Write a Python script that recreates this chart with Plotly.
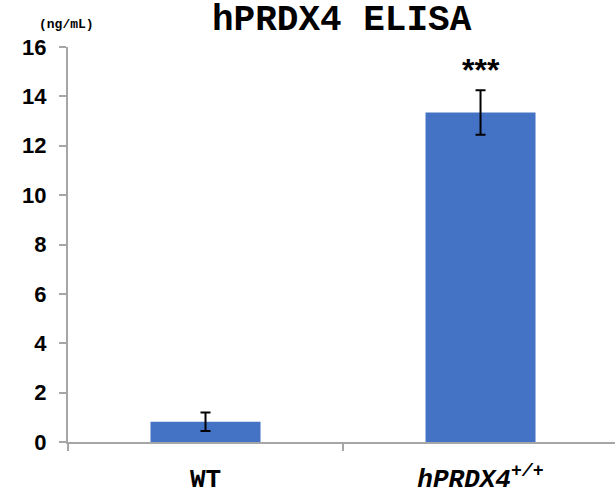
import plotly.graph_objects as go

categories = ["WT", "<i>hPRDX4<sup>+/+</sup></i>"]
values = [0.82, 13.35]
errors = [0.37, 0.9]
y_ticks = [0, 2, 4, 6, 8, 10, 12, 14, 16]
title_text = "hPRDX4 ELISA"
unit_text = "(ng/mL)"
sig_text = "***"

mono = "Liberation Mono, Courier New, monospace"
sans = "Liberation Sans, Arial, sans-serif"
axis_col = "#A6A6A6"

fig = go.Figure()
fig.add_trace(go.Bar(
    x=categories, y=values, width=0.4,
    marker=dict(color="#4472C4", line=dict(width=0)),
    error_y=dict(type="data", array=errors, visible=True,
                 color="black", thickness=2, width=5),
))

fig.update_layout(
    width=615, height=496,
    margin=dict(l=68, r=0, t=47, b=54, autoexpand=False),
    plot_bgcolor="white", paper_bgcolor="white",
    showlegend=False,
    bargap=0.6,
)
fig.update_xaxes(
    range=[-0.5, 1.489], automargin=False,
    showline=True, linecolor=axis_col, linewidth=2,
    ticks="outside", tickson="boundaries", ticklen=7, tickwidth=2, tickcolor=axis_col,
    showgrid=False,
    tickfont=dict(family=mono, size=26, color="black", weight="bold"),
    ticklabelstandoff=12,
)
fig.update_yaxes(
    range=[0, 16], tickvals=y_ticks, automargin=False,
    showline=True, linecolor=axis_col, linewidth=2,
    ticks="outside", ticklen=7, tickwidth=2, tickcolor=axis_col,
    showgrid=False, zeroline=False,
    tickfont=dict(family=sans, size=22, color="black", weight="bold"),
    ticklabelstandoff=8,
)
fig.add_annotation(
    text=title_text, xref="paper", yref="paper", x=0.5, y=1 + 27 / 395,
    showarrow=False, yanchor="middle", xanchor="center",
    font=dict(family=mono, size=36, color="black", weight="bold"),
)
fig.add_annotation(
    text=unit_text, xref="paper", yref="paper", x=-2 / 547, y=1 + 22 / 395,
    showarrow=False, yanchor="middle", xanchor="center",
    font=dict(family=mono, size=13, color="black", weight="bold"),
)
fig.add_annotation(
    text=sig_text, x=categories[1], y=values[1] + errors[1], yshift=20,
    showarrow=False, yanchor="middle", xanchor="center",
    font=dict(family=sans, size=32, color="black", weight="bold"),
)

fig.write_html("out.html")
